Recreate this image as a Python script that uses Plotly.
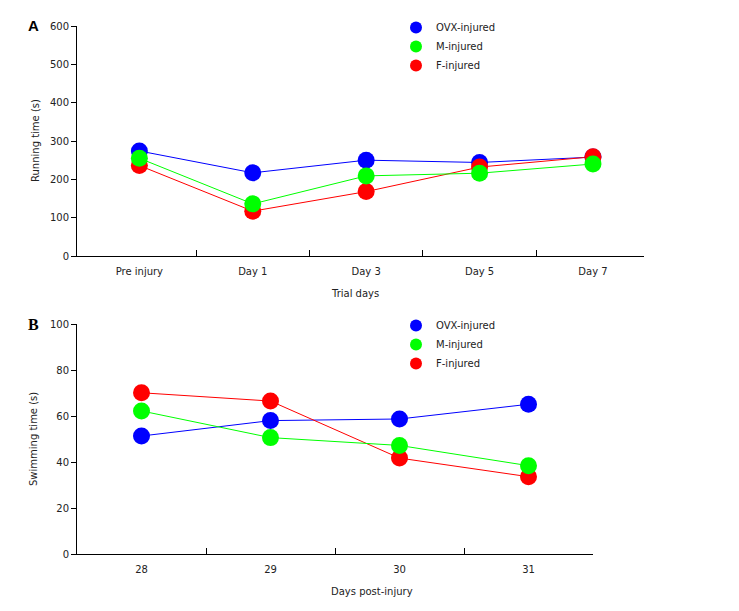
import plotly.graph_objects as go

# ---- data ----
trial_days = ["Pre injury", "Day 1", "Day 3", "Day 5", "Day 7"]
ovx_running = [274, 217, 250, 244, 258]
m_running = [255, 136, 209, 216, 240]
f_running = [236, 117, 168, 232, 259]

post_days = ["28", "29", "30", "31"]
ovx_swimming = [51.3, 58.0, 58.7, 65.1]
m_swimming = [62.2, 50.6, 47.2, 38.4]
f_swimming = [70.1, 66.5, 41.7, 33.6]

series_names = ["OVX-injured", "M-injured", "F-injured"]
colors = ["#0000ff", "#00ff00", "#ff0000"]

W, H = 739, 611
FONT = "Verdana, DejaVu Sans, sans-serif"


def px_x(p):
    return p / W


def px_y(p):
    return 1 - p / H


fig = go.Figure()

xa = list(range(len(trial_days)))
xb = list(range(len(post_days)))

top_vals = [ovx_running, m_running, f_running]
bot_vals = [ovx_swimming, m_swimming, f_swimming]
# draw order: OVX bottom, F middle, M on top; legend order via legendrank
order = [0, 2, 1]

for xs, vals, leg, xax, yax in [
    (xa, top_vals, "legend", "x", "y"),
    (xb, bot_vals, "legend2", "x2", "y2"),
]:
    for i in order:
        fig.add_trace(go.Scatter(
            x=xs, y=vals[i], mode="lines", showlegend=False,
            line=dict(color=colors[i], width=1),
            xaxis=xax, yaxis=yax, hoverinfo="skip",
        ))
    for i in order:
        fig.add_trace(go.Scatter(
            x=xs, y=vals[i], mode="markers", name=series_names[i],
            marker=dict(color=colors[i], size=17, line=dict(width=0)),
            legendrank=i + 1, legend=leg, xaxis=xax, yaxis=yax,
            hoverinfo="skip",
        ))

axis_font = dict(family=FONT, size=10, color="#222")

common_x = dict(
    showgrid=False, zeroline=False, showline=True, linecolor="black", linewidth=1,
    ticks="", tickfont=axis_font, ticklabelstandoff=6, fixedrange=True, automargin=False,
)
common_y = dict(
    showgrid=False, zeroline=False, showline=True, linecolor="black", linewidth=1,
    ticks="outside", ticklen=5, tickcolor="black", tickfont=axis_font, fixedrange=True,
    automargin=False,
)

fig.update_layout(
    template="none",
    width=W, height=H, autosize=False,
    margin=dict(l=0, r=0, t=0, b=0, pad=0),
    paper_bgcolor="white", plot_bgcolor="white",
    font=dict(family=FONT, size=10, color="#222"),
    xaxis=dict(common_x, domain=[px_x(77), px_x(644)], range=[-0.55, len(trial_days) - 0.55],
               tickvals=xa, ticktext=trial_days, anchor="y",
               minor=dict(tickvals=[v + 0.5 for v in xa[:-1]], ticks="inside", ticklen=6,
                          tickcolor="black", showgrid=False)),
    yaxis=dict(common_y, domain=[px_y(256), px_y(26)], range=[0, 600], dtick=100, anchor="x"),
    xaxis2=dict(common_x, domain=[px_x(77), px_x(593)], range=[-0.5, len(post_days) - 0.5],
                tickvals=xb, ticktext=post_days, anchor="y2",
                minor=dict(tickvals=[v + 0.5 for v in xb[:-1]], ticks="inside", ticklen=6,
                           tickcolor="black", showgrid=False)),
    yaxis2=dict(common_y, domain=[px_y(554), px_y(324)], range=[0, 100], dtick=20, anchor="x2"),
    legend=dict(x=px_x(396), y=px_y(13), xanchor="left", yanchor="top",
                font=dict(family=FONT, size=10, color="#222"),
                bgcolor="rgba(0,0,0,0)", itemsizing="constant", tracegroupgap=0),
    legend2=dict(x=px_x(396), y=px_y(311), xanchor="left", yanchor="top",
                 font=dict(family=FONT, size=10, color="#222"),
                 bgcolor="rgba(0,0,0,0)", itemsizing="constant", tracegroupgap=0),
    showlegend=True,
)

annots = [
    dict(text="<b>A</b>", x=px_x(33), y=px_y(26), font=dict(family="Liberation Sans, Arial", size=15, color="black")),
    dict(text="<b>B</b>", x=px_x(33), y=px_y(324), font=dict(family="Liberation Serif, Times New Roman", size=16, color="black")),
    dict(text="Running time (s)", x=px_x(35), y=px_y(141), textangle=-90, font=axis_font),
    dict(text="Swimming time (s)", x=px_x(33), y=px_y(439), textangle=-90, font=axis_font),
    dict(text="Trial days", x=px_x(355), y=px_y(293), font=axis_font),
    dict(text="Days post-injury", x=px_x(372), y=px_y(591), font=axis_font),
]
for a in annots:
    fig.add_annotation(xref="paper", yref="paper", xanchor="center", yanchor="middle",
                       showarrow=False, **a)

fig.write_html(
    "out.html",
    config={"displayModeBar": False},
    post_script=(
        "document.documentElement.style.margin='0';"
        "document.body.style.margin='0';document.body.style.padding='0';"
        "document.body.style.overflow='hidden';"
    ),
)
